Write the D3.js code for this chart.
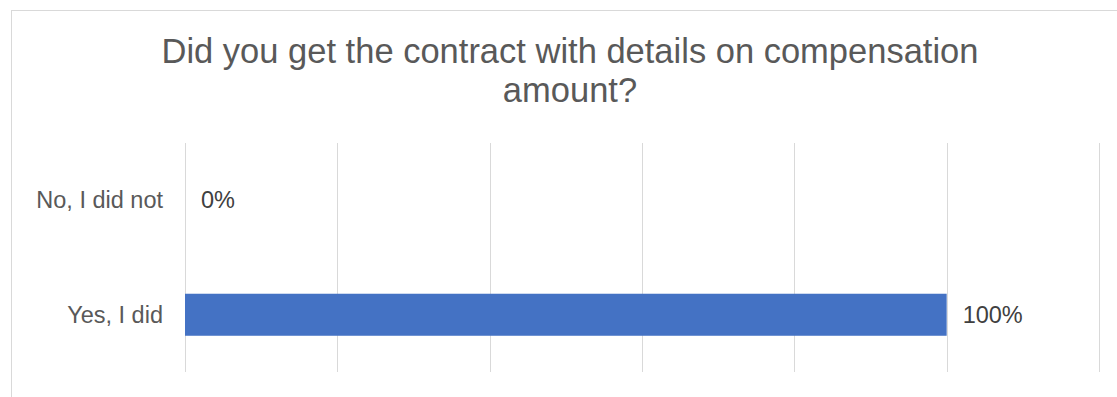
<!DOCTYPE html>
<html>
<head>
<meta charset="utf-8">
<script src="https://cdn.jsdelivr.net/npm/d3@7"></script>
<style>
  html, body { margin: 0; padding: 0; background: #fff; }
  svg { display: block; font-family: "Liberation Sans", Arial, sans-serif; }
</style>
</head>
<body>
<svg id="chart" width="1117" height="397"></svg>
<script>
// Survey answers and their share of respondents
const categories = ["No, I did not", "Yes, I did"];
const shares = [0, 1];
const valueLabels = ["0%", "100%"];
const titleLines = ["Did you get the contract with details on compensation", "amount?"];
const gridTicks = [0, 0.2, 0.4, 0.6, 0.8, 1.0, 1.2];

const svg = d3.select("#chart");

// Chart frame (the right and bottom edges fall outside the view)
svg.append("rect")
  .attr("x", 11.5).attr("y", 10.5)
  .attr("width", 1200).attr("height", 500)
  .attr("fill", "#fff")
  .attr("stroke", "#d9d9d9")
  .attr("stroke-width", 1);

const plot = { left: 185, right: 1099, top: 143, bottom: 372 };

const x = d3.scaleLinear().domain([0, 1.2]).range([plot.left, plot.right]);
const y = d3.scaleBand()
  .domain(categories)
  .range([plot.top, plot.bottom])
  .paddingInner(0.633)
  .paddingOuter(0.3165);

// Title
svg.append("text")
  .attr("x", 570)
  .attr("y", 63)
  .attr("text-anchor", "middle")
  .attr("fill", "#595959")
  .style("font-size", "34.5px")
  .selectAll("tspan")
  .data(titleLines)
  .join("tspan")
  .attr("x", 570)
  .attr("dy", (d, i) => i === 0 ? 0 : 38.7)
  .text(d => d);

// Vertical gridlines
svg.append("g")
  .selectAll("line")
  .data(gridTicks)
  .join("line")
  .attr("x1", d => Math.round(x(d)) + 0.5)
  .attr("x2", d => Math.round(x(d)) + 0.5)
  .attr("y1", plot.top)
  .attr("y2", plot.bottom)
  .attr("stroke", "#d9d9d9")
  .attr("stroke-width", 1);

// Bars
svg.append("g")
  .selectAll("rect")
  .data(categories)
  .join("rect")
  .attr("x", x(0))
  .attr("y", d => y(d))
  .attr("width", (d, i) => x(shares[i]) - x(0))
  .attr("height", y.bandwidth())
  .attr("fill", "#4472c4");

// Category labels
svg.append("g")
  .selectAll("text")
  .data(categories)
  .join("text")
  .attr("x", 163)
  .attr("y", d => y(d) + y.bandwidth() / 2)
  .attr("dy", "0.35em")
  .attr("text-anchor", "end")
  .attr("fill", "#595959")
  .style("font-size", "23.5px")
  .text(d => d);

// Value labels
svg.append("g")
  .selectAll("text")
  .data(categories)
  .join("text")
  .attr("x", (d, i) => x(shares[i]) + 16)
  .attr("y", d => y(d) + y.bandwidth() / 2)
  .attr("dy", "0.35em")
  .attr("fill", "#404040")
  .style("font-size", "23.5px")
  .text((d, i) => valueLabels[i]);
</script>
</body>
</html>
